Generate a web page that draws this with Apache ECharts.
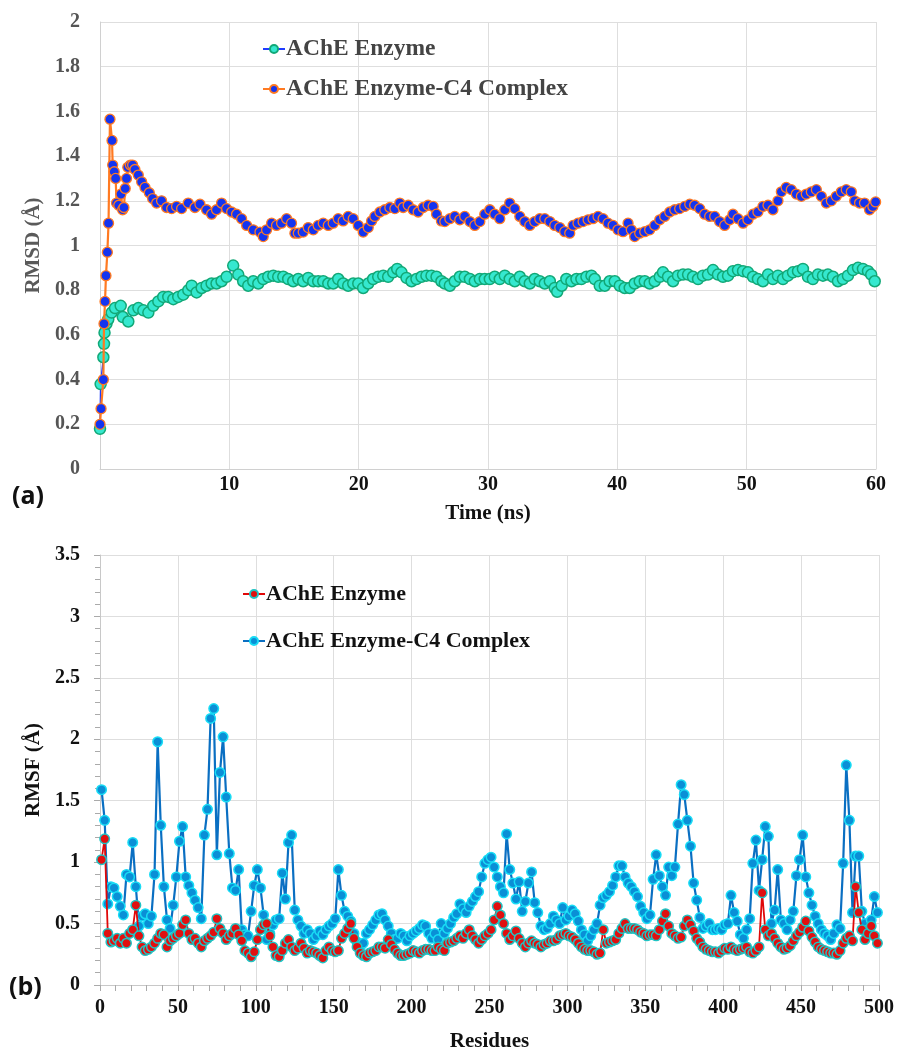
<!DOCTYPE html>
<html>
<head>
<meta charset="utf-8">
<script src="https://cdn.jsdelivr.net/npm/echarts@6/dist/echarts.min.js"></script>
<style>
html,body{margin:0;padding:0;background:#fff;}
#chart{width:897px;height:1061px;}
</style>
</head>
<body>
<div id="chart"></div>
<script>
// ---------- Panel (a): RMSD vs time ----------
const seriesNamesA = ['AChE Enzyme', 'AChE Enzyme-C4 Complex'];
const timeTicksA = [10, 20, 30, 40, 50, 60];

const timeEnzyme = [0,0.05,0.26,0.31,0.35,0.50,0.64,0.90,1.16,1.60,1.76,2.19,2.58,2.97,3.35,3.74,4.12,4.51,4.89,5.28,5.67,6.05,6.44,6.83,7.09,7.47,7.86,8.24,8.63,9.01,9.40,9.79,10.30,10.69,11.07,11.46,11.85,12.24,12.62,13.01,13.40,13.78,14.17,14.55,14.94,15.33,15.71,16.10,16.49,16.87,17.26,17.65,18.03,18.42,18.80,19.19,19.58,19.97,20.35,20.74,21.12,21.51,21.90,22.28,22.67,22.98,23.31,23.70,24.09,24.47,24.86,25.24,25.63,26.02,26.40,26.66,27.05,27.43,27.82,28.20,28.60,28.98,29.37,29.75,30.14,30.52,30.91,31.30,31.68,32.07,32.46,32.84,33.23,33.61,34.00,34.39,34.78,35.16,35.35,35.70,36.06,36.45,36.84,37.22,37.61,38.00,38.25,38.64,39.03,39.41,39.80,40.19,40.57,40.96,41.34,41.73,42.12,42.50,42.89,43.28,43.53,43.92,44.31,44.69,45.08,45.47,45.85,46.24,46.62,47.01,47.40,47.78,48.17,48.56,48.94,49.33,49.72,50.10,50.49,50.87,51.26,51.65,52.03,52.42,52.81,53.19,53.58,53.97,54.35,54.74,55.12,55.51,55.90,56.28,56.67,57.06,57.44,57.83,58.22,58.61,58.99,59.38,59.63,59.90];
const rmsdEnzyme = [0.18,0.38,0.50,0.56,0.61,0.65,0.67,0.70,0.72,0.73,0.68,0.66,0.71,0.72,0.71,0.70,0.73,0.75,0.77,0.77,0.76,0.77,0.78,0.80,0.82,0.79,0.81,0.82,0.83,0.83,0.84,0.86,0.91,0.87,0.84,0.82,0.84,0.83,0.85,0.86,0.865,0.86,0.86,0.85,0.84,0.85,0.84,0.855,0.84,0.84,0.84,0.83,0.83,0.85,0.83,0.82,0.83,0.83,0.81,0.83,0.85,0.86,0.865,0.86,0.88,0.895,0.88,0.855,0.84,0.85,0.86,0.865,0.865,0.86,0.84,0.83,0.82,0.84,0.86,0.86,0.85,0.84,0.85,0.85,0.85,0.86,0.85,0.865,0.85,0.84,0.86,0.84,0.83,0.85,0.84,0.83,0.84,0.81,0.793,0.82,0.85,0.84,0.85,0.85,0.86,0.865,0.85,0.82,0.82,0.84,0.84,0.82,0.81,0.81,0.83,0.84,0.84,0.83,0.84,0.86,0.88,0.86,0.84,0.865,0.87,0.87,0.86,0.85,0.865,0.87,0.89,0.87,0.86,0.865,0.885,0.89,0.885,0.88,0.86,0.85,0.84,0.87,0.85,0.865,0.85,0.865,0.88,0.885,0.895,0.86,0.85,0.87,0.865,0.87,0.86,0.84,0.85,0.865,0.89,0.90,0.895,0.885,0.87,0.84];

const timeComplex = [0,0.08,0.26,0.31,0.39,0.46,0.57,0.66,0.77,0.93,0.98,1.10,1.21,1.28,1.45,1.62,1.75,1.85,1.95,2.05,2.15,2.35,2.52,2.70,2.96,3.22,3.48,3.81,4.07,4.38,4.76,5.15,5.54,5.92,6.31,6.82,7.34,7.73,8.24,8.63,9.01,9.40,9.79,10.18,10.56,10.95,11.34,11.85,12.37,12.62,12.88,13.27,13.65,14.04,14.43,14.81,15.07,15.33,15.71,16.10,16.49,16.87,17.26,17.65,18.03,18.42,18.80,19.19,19.58,19.97,20.35,20.74,21.00,21.25,21.64,22.02,22.41,22.80,23.18,23.44,23.83,24.21,24.60,24.99,25.37,25.76,26.02,26.40,26.66,27.05,27.43,27.82,28.20,28.60,28.98,29.37,29.75,30.14,30.52,30.91,31.30,31.68,32.07,32.46,32.84,33.23,33.61,34.00,34.39,34.78,35.16,35.55,35.93,36.32,36.58,36.96,37.35,37.74,38.12,38.51,38.90,39.28,39.67,40.05,40.44,40.83,41.08,41.34,41.73,42.12,42.50,42.89,43.28,43.66,44.05,44.44,44.82,45.21,45.60,45.98,46.37,46.75,47.14,47.53,47.91,48.30,48.69,48.94,49.33,49.72,50.10,50.49,50.87,51.26,51.65,52.03,52.42,52.68,53.06,53.45,53.84,54.23,54.61,55.00,55.39,55.77,56.16,56.55,56.93,57.32,57.70,58.09,58.35,58.73,59.11,59.50,59.76,59.97];
const rmsdComplex = [0.20,0.27,0.40,0.65,0.75,0.865,0.97,1.10,1.565,1.47,1.36,1.33,1.30,1.19,1.18,1.23,1.16,1.17,1.255,1.30,1.35,1.36,1.36,1.34,1.315,1.285,1.26,1.236,1.21,1.19,1.20,1.17,1.165,1.175,1.165,1.19,1.17,1.185,1.16,1.14,1.16,1.19,1.165,1.15,1.14,1.12,1.09,1.07,1.06,1.04,1.07,1.10,1.09,1.10,1.12,1.10,1.055,1.055,1.06,1.08,1.07,1.09,1.10,1.09,1.10,1.12,1.11,1.13,1.12,1.09,1.06,1.08,1.11,1.13,1.15,1.16,1.17,1.165,1.19,1.17,1.18,1.16,1.15,1.17,1.18,1.175,1.14,1.11,1.107,1.12,1.13,1.115,1.13,1.107,1.09,1.107,1.14,1.16,1.14,1.12,1.16,1.19,1.165,1.13,1.107,1.09,1.107,1.12,1.12,1.107,1.09,1.08,1.062,1.055,1.09,1.10,1.107,1.115,1.12,1.13,1.12,1.10,1.09,1.07,1.062,1.10,1.07,1.04,1.055,1.062,1.07,1.09,1.115,1.13,1.15,1.16,1.165,1.175,1.185,1.18,1.165,1.14,1.13,1.13,1.107,1.09,1.115,1.14,1.12,1.10,1.115,1.14,1.15,1.175,1.18,1.16,1.20,1.24,1.26,1.25,1.23,1.22,1.23,1.24,1.25,1.22,1.19,1.20,1.22,1.24,1.25,1.24,1.20,1.19,1.19,1.16,1.175,1.195];

// ---------- Panel (b): RMSF vs residue ----------
const seriesNamesB = ['AChE Enzyme', 'AChE Enzyme-C4 Complex'];
const residueTicksB = [0, 50, 100, 150, 200, 250, 300, 350, 400, 450, 500];
const firstResidue = 1;
const residueStep = 2;

const rmsfEnzyme = [
1.02,1.19,0.42,0.35,0.36,0.38,0.34,0.38,0.34,0.42,
0.45,0.65,0.40,0.31,0.28,0.29,0.31,0.34,0.38,0.42,
0.41,0.31,0.36,0.38,0.40,0.42,0.49,0.53,0.42,0.37,
0.38,0.34,0.31,0.36,0.38,0.40,0.43,0.54,0.46,0.42,
0.37,0.40,0.42,0.46,0.41,0.36,0.28,0.26,0.23,0.27,
0.37,0.45,0.49,0.50,0.40,0.31,0.24,0.23,0.28,0.34,
0.37,0.31,0.28,0.30,0.34,0.30,0.26,0.28,0.27,0.26,
0.24,0.22,0.28,0.31,0.28,0.27,0.28,0.38,0.42,0.46,
0.50,0.38,0.31,0.26,0.24,0.23,0.26,0.27,0.28,0.31,
0.31,0.30,0.37,0.33,0.29,0.26,0.24,0.24,0.25,0.26,
0.28,0.27,0.26,0.28,0.29,0.29,0.28,0.28,0.31,0.29,
0.28,0.34,0.35,0.36,0.38,0.40,0.38,0.42,0.45,0.40,
0.37,0.34,0.37,0.40,0.42,0.45,0.53,0.64,0.57,0.50,
0.42,0.37,0.40,0.44,0.38,0.34,0.31,0.34,0.36,0.34,
0.33,0.31,0.33,0.34,0.36,0.36,0.37,0.40,0.41,0.42,
0.40,0.39,0.37,0.34,0.31,0.29,0.28,0.28,0.27,0.25,
0.26,0.45,0.34,0.35,0.36,0.37,0.42,0.46,0.50,0.46,
0.46,0.46,0.45,0.43,0.42,0.40,0.41,0.41,0.40,0.45,
0.52,0.58,0.48,0.42,0.40,0.38,0.39,0.48,0.53,0.49,
0.44,0.38,0.35,0.31,0.29,0.28,0.27,0.27,0.26,0.28,
0.30,0.29,0.31,0.29,0.28,0.29,0.30,0.31,0.27,0.26,
0.28,0.31,0.75,0.45,0.40,0.42,0.38,0.34,0.31,0.29,
0.30,0.32,0.36,0.40,0.43,0.47,0.52,0.44,0.39,0.35,
0.31,0.29,0.28,0.27,0.26,0.26,0.25,0.28,0.34,0.38,
0.40,0.36,0.80,0.59,0.45,0.37,0.42,0.48,0.40,0.34];

const rmsfComplex = [
1.59,1.34,0.66,0.80,0.79,0.72,0.64,0.57,0.90,0.88,
1.16,0.80,0.48,0.56,0.58,0.50,0.56,0.90,1.98,1.30,
0.80,0.53,0.46,0.65,0.88,1.17,1.29,0.88,0.81,0.75,
0.69,0.63,0.54,1.22,1.43,2.17,2.25,1.06,1.73,2.02,
1.53,1.07,0.79,0.77,0.94,0.45,0.41,0.40,0.60,0.81,
0.94,0.79,0.57,0.37,0.42,0.49,0.53,0.54,0.91,0.70,
1.16,1.22,0.61,0.53,0.48,0.42,0.45,0.42,0.37,0.40,
0.44,0.41,0.45,0.48,0.50,0.54,0.94,0.73,0.60,0.56,
0.52,0.42,0.35,0.31,0.34,0.42,0.45,0.49,0.53,0.57,
0.58,0.53,0.48,0.42,0.37,0.38,0.42,0.40,0.36,0.40,
0.42,0.44,0.46,0.49,0.48,0.42,0.38,0.42,0.37,0.50,
0.42,0.46,0.50,0.55,0.58,0.66,0.62,0.59,0.64,0.68,
0.72,0.76,0.88,0.99,1.02,1.04,0.96,0.88,0.80,0.75,
1.23,0.94,0.83,0.70,0.84,0.60,0.68,0.83,0.92,0.67,
0.59,0.48,0.45,0.46,0.50,0.56,0.53,0.50,0.63,0.53,
0.56,0.61,0.58,0.52,0.45,0.41,0.36,0.40,0.45,0.50,
0.65,0.71,0.73,0.76,0.81,0.88,0.97,0.97,0.88,0.83,
0.80,0.76,0.72,0.64,0.59,0.54,0.57,0.86,1.06,0.89,
0.80,0.73,0.96,0.89,0.96,1.31,1.63,1.55,1.34,1.13,
0.83,0.69,0.55,0.46,0.48,0.50,0.45,0.45,0.46,0.45,
0.49,0.50,0.73,0.59,0.52,0.41,0.38,0.45,0.54,0.99,
1.18,0.77,1.02,1.29,1.21,0.50,0.61,0.94,0.53,0.50,
0.45,0.53,0.60,0.89,1.02,1.22,0.88,0.75,0.65,0.56,
0.50,0.45,0.42,0.40,0.37,0.42,0.49,0.46,0.99,1.79,
1.34,0.59,1.05,1.05,0.60,0.50,0.45,0.53,0.72,0.59];

// ---------- build ----------
const pairs = (xs, ys) => xs.map((x, i) => [x, ys[i]]);
const resPairs = ys => ys.map((v, i) => [firstResidue + i * residueStep, v]);

const serif = '"Liberation Serif", "Times New Roman", serif';
const gridLine = {show: true, lineStyle: {color: '#dedede', width: 1}};

const chart = echarts.init(document.getElementById('chart'), null, {renderer: 'canvas'});
chart.setOption({
  animation: false,
  backgroundColor: '#ffffff',
  grid: [
    {left: 100, top: 22, width: 776, height: 447},
    {left: 100, top: 555, width: 782, height: 430}
  ],
  xAxis: [
    {
      gridIndex: 0, type: 'value', min: 0, max: 60, interval: 10,
      name: 'Time (ns)', nameLocation: 'middle', nameGap: 34,
      nameTextStyle: {fontFamily: serif, fontWeight: 'bold', fontSize: 21, color: '#111'},
      axisLine: {show: true, lineStyle: {color: '#d0d0d0'}},
      axisTick: {show: false},
      axisLabel: {
        fontFamily: serif, fontWeight: 'bold', fontSize: 20, color: '#111', margin: 6,
        formatter: v => (timeTicksA.indexOf(v) >= 0 ? String(v) : '')
      },
      splitLine: gridLine
    },
    {
      gridIndex: 1, type: 'value', min: 0, max: 500, interval: 50,
      name: 'Residues', nameLocation: 'middle', nameGap: 46,
      nameTextStyle: {fontFamily: serif, fontWeight: 'bold', fontSize: 21, color: '#111'},
      axisLine: {show: true, lineStyle: {color: '#c8c8c8'}},
      axisTick: {show: true, length: 6, lineStyle: {color: '#aaa'}},
      minorTick: {show: true, splitNumber: 5, length: 6, lineStyle: {color: '#aaa'}},
      axisLabel: {
        fontFamily: serif, fontWeight: 'bold', fontSize: 20, color: '#111', margin: 13,
        formatter: v => (residueTicksB.indexOf(v) >= 0 ? String(v) : '')
      },
      splitLine: gridLine
    }
  ],
  yAxis: [
    {
      gridIndex: 0, type: 'value', min: 0, max: 2, interval: 0.2,
      name: 'RMSD (Å)', nameLocation: 'middle', nameGap: 54,
      nameTextStyle: {fontFamily: serif, fontWeight: 'bold', fontSize: 21, color: '#5a5a5a'},
      axisLine: {show: true, lineStyle: {color: '#d0d0d0'}},
      axisTick: {show: false},
      axisLabel: {fontFamily: serif, fontWeight: 'bold', fontSize: 20, color: '#555', margin: 20,
        formatter: v => String(Math.round(v * 10) / 10)},
      splitLine: gridLine
    },
    {
      gridIndex: 1, type: 'value', min: 0, max: 3.5, interval: 0.5,
      name: 'RMSF (Å)', nameLocation: 'middle', nameGap: 50,
      nameTextStyle: {fontFamily: serif, fontWeight: 'bold', fontSize: 21, color: '#111'},
      axisLine: {show: true, lineStyle: {color: '#c8c8c8'}},
      axisTick: {show: true, length: 6, lineStyle: {color: '#aaa'}},
      minorTick: {show: true, splitNumber: 5, length: 5, lineStyle: {color: '#aaa'}},
      axisLabel: {fontFamily: serif, fontWeight: 'bold', fontSize: 20, color: '#111', margin: 20,
        formatter: v => String(Math.round(v * 10) / 10)},
      splitLine: gridLine
    }
  ],
  legend: [
    {
      data: seriesNamesA.slice(),
      left: 262, top: 37, orient: 'vertical', itemGap: 16, padding: 0,
      itemWidth: 22, itemHeight: 10,
      textStyle: {fontFamily: serif, fontWeight: 'bold', fontSize: 23.5, color: '#444', padding: [0, 0, 0, -4]}
    },
    {
      data: ['B0', 'B1'],
      formatter: n => (n === 'B0' ? seriesNamesB[0] : seriesNamesB[1]),
      left: 242, top: 583, orient: 'vertical', itemGap: 25, padding: 0,
      itemWidth: 22, itemHeight: 10,
      textStyle: {fontFamily: serif, fontWeight: 'bold', fontSize: 22, color: '#111', padding: [0, 0, 0, -4]}
    }
  ],
  series: [
    {
      name: seriesNamesA[0], type: 'line', xAxisIndex: 0, yAxisIndex: 0,
      data: pairs(timeEnzyme, rmsdEnzyme), showAllSymbol: true,
      symbol: 'circle', symbolSize: 11,
      lineStyle: {color: '#1f3cff', width: 1.5},
      itemStyle: {color: '#35e8cf', borderColor: '#12a877', borderWidth: 1.5},
      z: 2
    },
    {
      name: seriesNamesA[1], type: 'line', xAxisIndex: 0, yAxisIndex: 0,
      data: pairs(timeComplex, rmsdComplex), showAllSymbol: true,
      symbol: 'circle', symbolSize: 10,
      lineStyle: {color: '#ff7a22', width: 2.2},
      itemStyle: {color: '#1434f0', borderColor: '#ff7a22', borderWidth: 1.3},
      z: 3
    },
    {
      name: 'B1', type: 'line', xAxisIndex: 1, yAxisIndex: 1,
      data: resPairs(rmsfComplex), showAllSymbol: true,
      symbol: 'circle', symbolSize: 9.5,
      lineStyle: {color: '#0a6fc2', width: 2.2},
      itemStyle: {color: '#0a8fd6', borderColor: '#18dcf5', borderWidth: 1.5},
      z: 2
    },
    {
      name: 'B0', type: 'line', xAxisIndex: 1, yAxisIndex: 1,
      data: resPairs(rmsfEnzyme), showAllSymbol: true,
      symbol: 'circle', symbolSize: 9.5,
      lineStyle: {color: '#e00808', width: 1.8},
      itemStyle: {color: '#e01010', borderColor: '#1fc4c4', borderWidth: 1.5},
      z: 3
    }
  ],
  graphic: [
    {type: 'text', left: 12, top: 484,
      style: {text: '(a)', font: 'bold 25px "Open Sans", "Liberation Sans", sans-serif', fill: '#111'}},
    {type: 'text', left: 9, top: 975,
      style: {text: '(b)', font: 'bold 25px "Open Sans", "Liberation Sans", sans-serif', fill: '#111'}}
  ]
});
</script>
</body>
</html>
